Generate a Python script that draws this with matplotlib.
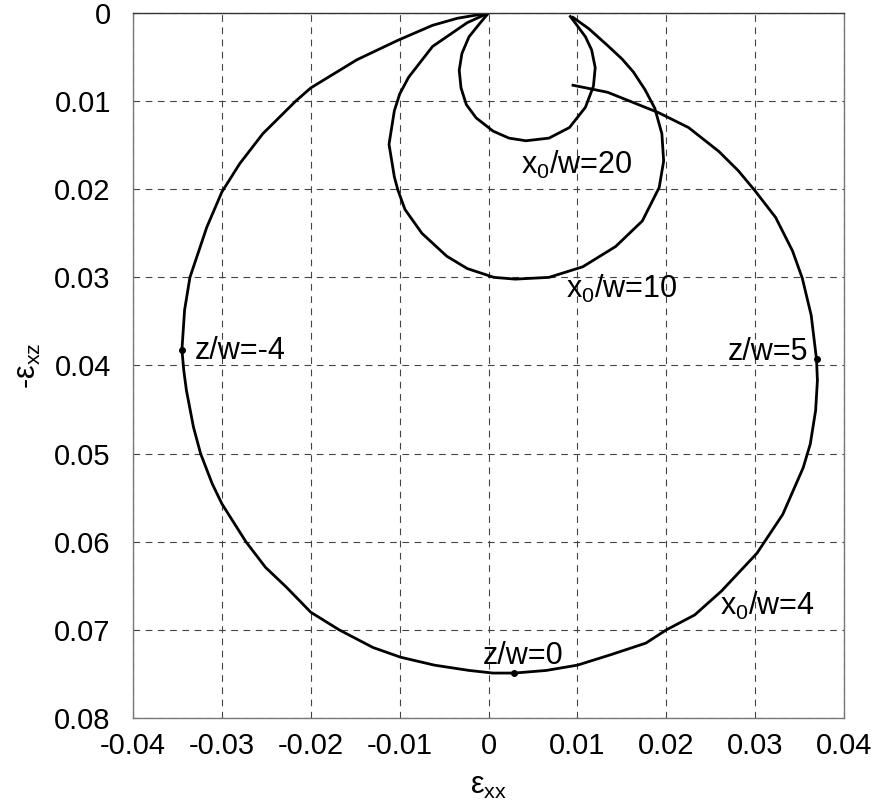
import matplotlib
matplotlib.use("Agg")
from matplotlib import pyplot as plt

plt.rcParams['font.family'] = ['Liberation Sans', 'DejaVu Sans']
plt.rcParams['mathtext.fontset'] = 'custom'
plt.rcParams['mathtext.rm'] = 'Liberation Sans'
plt.rcParams['mathtext.it'] = 'Liberation Sans'
plt.rcParams['axes.unicode_minus'] = False

# strain path for x0/w = 4 (eps_xx, -eps_xz)
x4_exx = [0.0000, -0.0035, -0.0063, -0.0102, -0.0148, -0.0200, -0.0217, -0.0254,
          -0.0280, -0.0300, -0.0317, -0.0336, -0.0342, -0.0345, -0.0343, -0.0340,
          -0.0332, -0.0324, -0.0311, -0.0300, -0.0273, -0.0251, -0.0228, -0.0200,
          -0.0168, -0.0130, -0.0099, -0.0061, -0.0022, 0.0005, 0.0029, 0.0065,
          0.0100, 0.0138, 0.0177, 0.0200, 0.0232, 0.0262, 0.0302, 0.0331,
          0.0354, 0.0362, 0.0368, 0.0370, 0.0369, 0.0363, 0.0353, 0.0342,
          0.0323, 0.0300, 0.0281, 0.0259, 0.0225, 0.0191, 0.0134, 0.0095]
x4_exz = [0.0000, 0.0006, 0.0014, 0.0031, 0.0053, 0.0085, 0.0100, 0.0137,
          0.0171, 0.0203, 0.0243, 0.0300, 0.0337, 0.0382, 0.0405, 0.0428,
          0.0470, 0.0500, 0.0534, 0.0557, 0.0600, 0.0629, 0.0651, 0.0680,
          0.0700, 0.0720, 0.0731, 0.0740, 0.0746, 0.0749, 0.0749, 0.0746,
          0.0740, 0.0728, 0.0715, 0.0700, 0.0683, 0.0656, 0.0613, 0.0569,
          0.0516, 0.0489, 0.0451, 0.0417, 0.0393, 0.0343, 0.0301, 0.0270,
          0.0232, 0.0202, 0.0179, 0.0157, 0.0130, 0.0113, 0.0090, 0.0082]

# strain path for x0/w = 10
x10_exx = [0.0000, -0.0024, -0.0063, -0.0090, -0.0100, -0.0106, -0.0112, -0.0106,
           -0.0102, -0.0094, -0.0075, -0.0047, -0.0024, 0.0006, 0.0030, 0.0068,
           0.0106, 0.0143, 0.0173, 0.0192, 0.0197, 0.0195, 0.0187, 0.0176,
           0.0163, 0.0150, 0.0134, 0.0113, 0.0095]
x10_exz = [0.0000, 0.0011, 0.0038, 0.0073, 0.0092, 0.0111, 0.0149, 0.0186,
           0.0201, 0.0223, 0.0250, 0.0276, 0.0290, 0.0300, 0.0302, 0.0300,
           0.0288, 0.0265, 0.0236, 0.0198, 0.0168, 0.0137, 0.0108, 0.0087,
           0.0067, 0.0052, 0.0037, 0.0018, 0.0005]

# strain path for x0/w = 20
x20_exx = [0.0000, -0.0010, -0.0022, -0.0030, -0.0033, -0.0031, -0.0025, -0.0014,
           0.0005, 0.0023, 0.0042, 0.0068, 0.0091, 0.0109, 0.0118, 0.0120,
           0.0116, 0.0109, 0.0098, 0.0092]
x20_exz = [0.0000, 0.0012, 0.0027, 0.0046, 0.0065, 0.0085, 0.0104, 0.0119,
           0.0134, 0.0142, 0.0145, 0.0142, 0.0130, 0.0107, 0.0083, 0.0062,
           0.0042, 0.0027, 0.0012, 0.0004]

# marked depths on the x0/w = 4 path
z_labels = ['z/w=-4', 'z/w=0', 'z/w=5']
z_exx = [-0.0345, 0.0029, 0.0369]
z_exz = [0.0382, 0.0749, 0.0393]

x_ticks = [-0.04, -0.03, -0.02, -0.01, 0, 0.01, 0.02, 0.03, 0.04]
x_tick_labels = ['-0.04', '-0.03', '-0.02', '-0.01', '0', '0.01', '0.02', '0.03', '0.04']
y_ticks = [0, 0.01, 0.02, 0.03, 0.04, 0.05, 0.06, 0.07, 0.08]
y_tick_labels = ['0', '0.01', '0.02', '0.03', '0.04', '0.05', '0.06', '0.07', '0.08']

fig = plt.figure(figsize=(8.87, 8.01), dpi=100)
ax = fig.add_axes([0.150, 0.1036, 0.8016, 0.8802])

ax.plot(x4_exx, x4_exz, color='black', lw=2)
ax.plot(x10_exx, x10_exz, color='black', lw=2)
ax.plot(x20_exx, x20_exz, color='black', lw=2)
ax.plot(z_exx, z_exz, 'o', color='black', ms=4)

fs = 22
ax.text(-0.0331, 0.0384, z_labels[0], fontsize=fs, ha='left', va='center')
ax.text(0.0039, 0.0730, z_labels[1], fontsize=fs, ha='center', va='center')
ax.text(0.0360, 0.0385, z_labels[2], fontsize=fs, ha='right', va='center')
ax.text(0.0036, 0.0172, 'x$_0$/w=20', fontsize=fs, ha='left', va='center')
ax.text(0.0087, 0.0313, 'x$_0$/w=10', fontsize=fs, ha='left', va='center')
ax.text(0.0260, 0.0673, 'x$_0$/w=4', fontsize=fs, ha='left', va='center')

ax.set_xlim(-0.04, 0.04)
ax.set_ylim(0.08, 0)
ax.set_xticks(x_ticks)
ax.set_xticklabels(x_tick_labels)
ax.set_yticks(y_ticks)
ax.set_yticklabels(y_tick_labels)
ax.tick_params(length=0, labelsize=21, pad=10)
ax.tick_params(axis='y', pad=16)
ax.grid(True, color='#444444', lw=0.8, linestyle=(0, (6, 5)))
for sp in ax.spines.values():
    sp.set_color('#777777')
    sp.set_linewidth(1)
ax.spines['top'].set_color('#333333')

ax.set_xlabel('ε$_{\\rm xx}$', fontsize=22, labelpad=8)
ax.set_ylabel('-ε$_{\\rm xz}$', fontsize=22, labelpad=8)

fig.savefig('out.png', dpi=100)
